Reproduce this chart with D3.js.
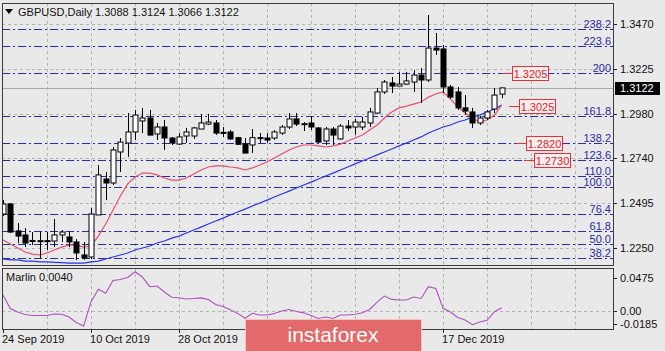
<!DOCTYPE html>
<html>
<head>
<meta charset="utf-8">
<script src="https://cdn.jsdelivr.net/npm/d3@7"></script>
<style>
  html, body { margin: 0; padding: 0; background: #e9e9e9; }
  svg { display: block; font-family: "Liberation Sans", Arial, sans-serif; }
</style>
</head>
<body>
<div id="chart"></div>
<script>
// --- données ---
// (les dates du 13 et du 29 nov. sont cachées par le logo dans l'original)
const dateLabels = ["24 Sep 2019", "10 Oct 2019", "28 Oct 2019", "17 Dec 2019"];
const dateBars = [0, 12, 24, 60];

const opens  = [1.2435,1.2490,1.2343,1.2321,1.2291,1.2286,1.2290,1.2288,1.2321,1.2310,1.2283,1.2212,1.2201,1.2430,1.2626,1.2604,1.2773,1.2822,1.2882,1.2942,1.2958,1.2871,1.2909,1.2849,1.2816,1.2860,1.2860,1.2898,1.2925,1.2931,1.2880,1.2882,1.2851,1.2816,1.2811,1.2849,1.2849,1.2849,1.2876,1.2909,1.2953,1.2925,1.2931,1.2904,1.2833,1.2898,1.2844,1.2914,1.2909,1.2909,1.2931,1.2985,1.3100,1.3149,1.3132,1.3143,1.3154,1.3192,1.3165,1.3339,1.3334,1.3127,1.3100,1.3013,1.2991,1.2931,1.2958,1.3007,1.3088];
const highs  = [1.2511,1.2495,1.2386,1.2359,1.2337,1.2337,1.2337,1.2408,1.2348,1.2337,1.2299,1.2283,1.2468,1.2702,1.2664,1.2800,1.2849,1.2985,1.3002,1.3013,1.3002,1.2931,1.2947,1.2855,1.2876,1.2904,1.2909,1.2980,1.2980,1.2947,1.2909,1.2893,1.2855,1.2849,1.2898,1.2876,1.2876,1.2893,1.2920,1.2985,1.2985,1.2936,1.2969,1.2909,1.2909,1.2909,1.2925,1.2947,1.2953,1.2964,1.3013,1.3121,1.3165,1.3182,1.3209,1.3209,1.3220,1.3230,1.3519,1.3421,1.3356,1.3138,1.3127,1.3083,1.3013,1.2969,1.3002,1.3121,1.3124];
const lows   = [1.2424,1.2332,1.2277,1.2255,1.2266,1.2196,1.2239,1.2255,1.2283,1.2255,1.2185,1.2185,1.2190,1.2430,1.2511,1.2593,1.2664,1.2746,1.2838,1.2876,1.2865,1.2838,1.2784,1.2811,1.2811,1.2822,1.2844,1.2898,1.2920,1.2866,1.2855,1.2838,1.2811,1.2767,1.2767,1.2822,1.2822,1.2838,1.2866,1.2898,1.2914,1.2887,1.2893,1.2822,1.2811,1.2811,1.2838,1.2887,1.2866,1.2893,1.2909,1.2980,1.3089,1.3094,1.3132,1.3138,1.3100,1.3040,1.3154,1.3301,1.3094,1.3062,1.3002,1.2974,1.2904,1.2920,1.2947,1.2985,1.3066];
const closes = [1.2490,1.2337,1.2315,1.2277,1.2288,1.2290,1.2288,1.2321,1.2337,1.2283,1.2223,1.2196,1.2435,1.2648,1.2604,1.2784,1.2827,1.2882,1.2974,1.2958,1.2865,1.2909,1.2849,1.2822,1.2855,1.2882,1.2904,1.2931,1.2936,1.2876,1.2878,1.2844,1.2815,1.2767,1.2851,1.2851,1.2838,1.2882,1.2909,1.2953,1.2925,1.2927,1.2909,1.2827,1.2898,1.2865,1.2914,1.2904,1.2936,1.2936,1.2991,1.3100,1.3154,1.3132,1.3143,1.3160,1.3192,1.3165,1.3339,1.3328,1.3127,1.3072,1.3013,1.2996,1.2931,1.2958,1.2991,1.3083,1.3122];

// moyennes mobiles (rouge = rapide, bleue = lente)
const maRouge = [1.2294,1.2272,1.2250,1.2228,1.2217,1.2212,1.2223,1.2239,1.2255,1.2266,1.2266,1.2255,1.2261,1.2315,1.2381,1.2457,1.2533,1.2599,1.2637,1.2658,1.2658,1.2648,1.2631,1.2620,1.2620,1.2631,1.2653,1.2675,1.2691,1.2697,1.2697,1.2691,1.2686,1.2675,1.2686,1.2702,1.2718,1.2740,1.2762,1.2784,1.2800,1.2811,1.2811,1.2806,1.2800,1.2806,1.2816,1.2833,1.2849,1.2865,1.2893,1.2920,1.2958,1.2991,1.3013,1.3023,1.3034,1.3045,1.3072,1.3089,1.3100,1.3062,1.3018,1.2985,1.2958,1.2936,1.2947,1.2974,1.3029];
const maBleue = [1.2190,1.2185,1.2185,1.2179,1.2179,1.2174,1.2174,1.2172,1.2170,1.2168,1.2168,1.2168,1.2174,1.2179,1.2190,1.2201,1.2212,1.2223,1.2239,1.2250,1.2261,1.2277,1.2288,1.2304,1.2315,1.2332,1.2348,1.2364,1.2381,1.2397,1.2413,1.2430,1.2446,1.2462,1.2479,1.2495,1.2511,1.2528,1.2544,1.2560,1.2577,1.2593,1.2609,1.2626,1.2642,1.2658,1.2675,1.2691,1.2708,1.2724,1.2740,1.2757,1.2773,1.2789,1.2806,1.2822,1.2838,1.2855,1.2876,1.2893,1.2909,1.2920,1.2936,1.2947,1.2963,1.2974,1.2991,1.3007,1.3029];

// indicateur Marlin
const marlin = [0.0224,0.0030,-0.0020,-0.0056,-0.0070,-0.0070,-0.0070,-0.0049,-0.0053,-0.0092,-0.0171,-0.0221,0.0128,0.0306,0.0248,0.0432,0.0446,0.0475,0.0558,0.0482,0.0343,0.0353,0.0267,0.0191,0.0185,0.0166,0.0174,0.0182,0.0159,0.0088,0.0059,0.0014,-0.0040,-0.0110,-0.0039,-0.0063,-0.0063,-0.0042,-0.0006,0.0016,-0.0014,-0.0032,-0.0070,-0.0113,-0.0092,-0.0113,-0.0063,-0.0063,-0.0052,-0.0030,0.0016,0.0123,0.0209,0.0161,0.0152,0.0152,0.0195,0.0174,0.0343,0.0317,0.0033,-0.0020,-0.0099,-0.0135,-0.0202,-0.0164,-0.0139,-0.0016,0.0040];

// niveaux de Fibonacci
const fibNoms = ["238.2","223.6","200","161.8","138.2","123.6","110.0","100.0","76.4","61.8","50.0","38.2","23.6"];
const fibPrix = [1.3443,1.3352,1.3205,1.2967,1.2820,1.2729,1.2644,1.2582,1.2435,1.2344,1.2271,1.2197,1.2106];

// étiquettes rouges
const niveauxRouges = [1.3205, 1.3025, 1.2820, 1.2730];
const niveauxBarres = [68, 69, 70, 71];

const prixTicks = [1.3470, 1.3225, 1.2980, 1.2740, 1.2495, 1.2250];
const marlinTicks = [0.0475, 0.00, -0.0185];
const marlinTickLabels = ["0.0475", "0.00", "-0.0185"];
const titre = "GBPUSD,Daily 1.3088 1.3124 1.3066 1.3122";
const dernierPrix = 1.3122;

// --- dessin ---
const W = 665, H = 351;
const main = {left: 2, right: 613, top: 3, bottom: 265};
const sub = {top: 268, bottom: 329};

const svg = d3.select("#chart").append("svg")
    .attr("width", W).attr("height", H);

svg.append("rect").attr("width", W).attr("height", H).attr("fill", "#e9e9e9");

const x = d3.scaleLinear().domain([0, 83]).range([3, 3 + 83 * 7.335]);
const y = d3.scaleLinear().domain([1.2250, 1.3470]).range([248, 24]);
const ySub = d3.scaleLinear().domain([-0.0185, 0.0475]).range([323.5, 277.5]);

const defs = svg.append("defs");
defs.append("clipPath").attr("id", "clipMain").append("rect")
    .attr("x", main.left).attr("y", main.top)
    .attr("width", main.right - main.left).attr("height", main.bottom - main.top);
defs.append("clipPath").attr("id", "clipSub").append("rect")
    .attr("x", main.left).attr("y", sub.top)
    .attr("width", main.right - main.left).attr("height", sub.bottom - sub.top);

const gMain = svg.append("g").attr("clip-path", "url(#clipMain)");
const gSub = svg.append("g").attr("clip-path", "url(#clipSub)");

// grille
const gridBars = d3.range(6, 84, 6);
const grilleCouleur = "#b4b4b4";
gMain.selectAll(".vgrid").data(gridBars).enter().append("line")
    .attr("x1", d => Math.round(x(d)) + 0.5).attr("x2", d => Math.round(x(d)) + 0.5)
    .attr("y1", main.top).attr("y2", main.bottom)
    .attr("stroke", grilleCouleur).attr("stroke-dasharray", "3,3");
gMain.selectAll(".hgrid").data(prixTicks).enter().append("line")
    .attr("x1", main.left).attr("x2", main.right)
    .attr("y1", d => Math.round(y(d)) + 0.5).attr("y2", d => Math.round(y(d)) + 0.5)
    .attr("stroke", grilleCouleur).attr("stroke-dasharray", "3,3");
gSub.selectAll(".vgrid").data(gridBars).enter().append("line")
    .attr("x1", d => Math.round(x(d)) + 0.5).attr("x2", d => Math.round(x(d)) + 0.5)
    .attr("y1", sub.top).attr("y2", sub.bottom)
    .attr("stroke", grilleCouleur).attr("stroke-dasharray", "3,3");
gSub.append("line")
    .attr("x1", main.left).attr("x2", main.right)
    .attr("y1", Math.round(ySub(0)) + 0.5).attr("y2", Math.round(ySub(0)) + 0.5)
    .attr("stroke", grilleCouleur).attr("stroke-dasharray", "3,3");

// lignes de Fibonacci
gMain.selectAll(".fib").data(fibPrix).enter().append("line")
    .attr("x1", main.left).attr("x2", main.right)
    .attr("y1", d => Math.round(y(d)) + 0.5).attr("y2", d => Math.round(y(d)) + 0.5)
    .attr("stroke", "#2b2ba6").attr("stroke-width", 1)
    .attr("stroke-dasharray", "8,3,2,3");
gMain.selectAll(".fibTxt").data(fibPrix).enter().append("text")
    .attr("x", 611).attr("y", d => Math.round(y(d)) - 1)
    .attr("text-anchor", "end").attr("font-size", 11).attr("fill", "#2b2ba6")
    .text((d, i) => fibNoms[i]);

// ligne du dernier prix
gMain.append("line")
    .attr("x1", main.left).attr("x2", main.right)
    .attr("y1", Math.round(y(dernierPrix)) + 0.5).attr("y2", Math.round(y(dernierPrix)) + 0.5)
    .attr("stroke", "#a8a8a8");

// moyennes mobiles
const ligne = d3.line().x((d, i) => x(i)).y(d => y(d));
gMain.append("path").datum(maBleue).attr("d", ligne)
    .attr("fill", "none").attr("stroke", "#2236ee").attr("stroke-width", 1.2);
gMain.append("path").datum(maRouge).attr("d", ligne)
    .attr("fill", "none").attr("stroke", "#e8506a").attr("stroke-width", 1.2);

// bougies
const bougies = opens.map((o, i) => ({i: i, o: o, h: highs[i], l: lows[i], c: closes[i]}));
const gB = gMain.selectAll(".bougie").data(bougies).enter().append("g");
gB.append("line")
    .attr("x1", d => Math.round(x(d.i)) + 0.5).attr("x2", d => Math.round(x(d.i)) + 0.5)
    .attr("y1", d => y(d.h)).attr("y2", d => y(d.l))
    .attr("stroke", "#000");
gB.append("rect")
    .attr("x", d => Math.round(x(d.i)) - 2)
    .attr("y", d => y(Math.max(d.o, d.c)))
    .attr("width", 5)
    .attr("height", d => Math.max(1, Math.abs(y(d.o) - y(d.c))))
    .attr("fill", d => d.c >= d.o ? "#fff" : "#000")
    .attr("stroke", "#000").attr("stroke-width", 1);

// étiquettes rouges
const gR = gMain.selectAll(".rouge").data(niveauxRouges).enter().append("g");
gR.append("line")
    .attr("x1", (d, i) => x(niveauxBarres[i])).attr("x2", (d, i) => x(niveauxBarres[i]) + 10)
    .attr("y1", d => Math.round(y(d)) + 0.5).attr("y2", d => Math.round(y(d)) + 0.5)
    .attr("stroke", "#e8303a");
gR.append("rect")
    .attr("x", (d, i) => Math.round(x(niveauxBarres[i]) + 10) + 0.5)
    .attr("y", d => Math.round(y(d)) - 6.5)
    .attr("width", 36).attr("height", 14)
    .attr("fill", "#f7eeee").attr("stroke", "#e8303a");
gR.append("text")
    .attr("x", (d, i) => Math.round(x(niveauxBarres[i]) + 10) + 18.5)
    .attr("y", d => Math.round(y(d)) + 4.5)
    .attr("text-anchor", "middle").attr("font-size", 11).attr("fill", "#e8202a")
    .text(d => d.toFixed(4));

// Marlin
gSub.append("path").datum(marlin)
    .attr("d", d3.line().x((d, i) => x(i)).y(d => ySub(d)))
    .attr("fill", "none").attr("stroke", "#b050c0").attr("stroke-width", 1.1);

// cadres
svg.append("rect").attr("x", main.left + 0.5).attr("y", main.top + 0.5)
    .attr("width", main.right - main.left).attr("height", main.bottom - main.top)
    .attr("fill", "none").attr("stroke", "#3a3a3a");
svg.append("rect").attr("x", main.left + 0.5).attr("y", sub.top + 0.5)
    .attr("width", main.right - main.left).attr("height", sub.bottom - sub.top)
    .attr("fill", "none").attr("stroke", "#3a3a3a");

// axe des prix
const axePrix = svg.append("g");
axePrix.selectAll("line").data(prixTicks).enter().append("line")
    .attr("x1", main.right + 1).attr("x2", main.right + 4)
    .attr("y1", d => Math.round(y(d)) + 0.5).attr("y2", d => Math.round(y(d)) + 0.5)
    .attr("stroke", "#222");
axePrix.selectAll("text").data(prixTicks).enter().append("text")
    .attr("x", 620).attr("y", d => y(d) + 4)
    .attr("font-size", 11).attr("fill", "#111")
    .text(d => d.toFixed(4));

// étiquette du dernier prix
svg.append("rect").attr("x", 615).attr("y", Math.round(y(dernierPrix)) - 6)
    .attr("width", 45).attr("height", 13).attr("fill", "#000");
svg.append("text").attr("x", 620).attr("y", y(dernierPrix) + 4)
    .attr("font-size", 11).attr("fill", "#fff").text(dernierPrix.toFixed(4));

// axe Marlin
const axeM = svg.append("g");
axeM.selectAll("line").data(marlinTicks).enter().append("line")
    .attr("x1", main.right + 1).attr("x2", main.right + 4)
    .attr("y1", d => Math.round(ySub(d)) + 0.5).attr("y2", d => Math.round(ySub(d)) + 0.5)
    .attr("stroke", "#222");
axeM.selectAll("text").data(marlinTicks).enter().append("text")
    .attr("x", 620).attr("y", d => ySub(d) + 4)
    .attr("font-size", 11).attr("fill", "#111")
    .text((d, i) => marlinTickLabels[i]);

// axe des dates
const axeD = svg.append("g");
axeD.selectAll("line").data(dateBars).enter().append("line")
    .attr("x1", d => Math.round(x(d)) + 0.5).attr("x2", d => Math.round(x(d)) + 0.5)
    .attr("y1", sub.bottom + 1).attr("y2", sub.bottom + 4)
    .attr("stroke", "#222");
axeD.selectAll("text").data(dateBars).enter().append("text")
    .attr("x", d => x(d) - 1).attr("y", 343)
    .attr("font-size", 11).attr("fill", "#111")
    .text((d, i) => dateLabels[i]);

// titres
svg.append("path").attr("d", "M5,9 L13,9 L9,14 Z").attr("fill", "#000");
svg.append("text").attr("x", 18).attr("y", 16)
    .attr("font-size", 11).attr("fill", "#111").text(titre);
svg.append("text").attr("x", 6).attr("y", 281)
    .attr("font-size", 11).attr("fill", "#111").text("Marlin " + marlin[marlin.length - 1].toFixed(4));

// logo
svg.append("rect").attr("x", 245.5).attr("y", 319.5).attr("width", 176).attr("height", 33)
    .attr("fill", "#e26a6a").attr("stroke", "#f4c4c4");
svg.append("text").attr("x", 333).attr("y", 342)
    .attr("text-anchor", "middle").attr("font-size", 21).attr("fill", "#fff")
    .text("instaforex");
</script>
</body>
</html>
